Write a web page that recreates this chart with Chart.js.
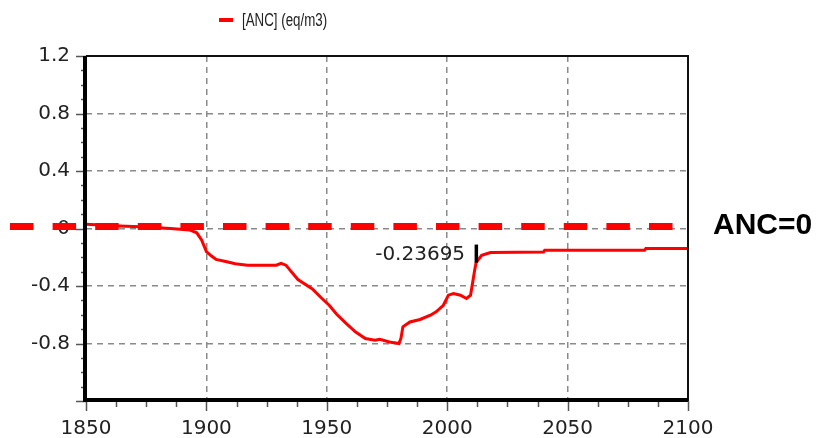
<!DOCTYPE html>
<html><head><meta charset="utf-8">
<script src="https://cdn.jsdelivr.net/npm/chart.js@4"></script>
<style>html,body{margin:0;padding:0;background:#fff}#wrap{width:817px;height:438px;position:relative}</style>
</head><body><div id="wrap"><canvas id="c"></canvas></div>
<script>
const years = [1850, 1864, 1875, 1885, 1893, 1896, 1898, 1900, 1902, 1904, 1908, 1912, 1917, 1929, 1931, 1933, 1938, 1944, 1948, 1951, 1954, 1958, 1962, 1966, 1970, 1972, 1976, 1980, 1980.8, 1981.6, 1984.5, 1988.7, 1993, 1995.4, 1998.4, 2000.5, 2002.6, 2005.5, 2008, 2009.7, 2010.5, 2011.4, 2012, 2014.3, 2018, 2040, 2040.5, 2082, 2082.5, 2100];
const ancValues = [0.03, 0.018, 0.01, 0.0, -0.01, -0.03, -0.08, -0.16, -0.19, -0.215, -0.23, -0.245, -0.255, -0.255, -0.243, -0.255, -0.355, -0.42, -0.487, -0.534, -0.595, -0.66, -0.72, -0.765, -0.777, -0.77, -0.789, -0.8, -0.763, -0.684, -0.65, -0.633, -0.603, -0.58, -0.534, -0.464, -0.452, -0.464, -0.487, -0.464, -0.383, -0.29, -0.237, -0.186, -0.167, -0.163, -0.151, -0.151, -0.139, -0.139];
const seriesLabel = '[ANC] (eq/m3)';
const xTickLabels = ['1850', '1900', '1950', '2000', '2050', '2100'];
const yTickLabels = ['1.2', '0.8', '0.4', '0', '-0.4', '-0.8'];
const refLineValue = 0;
const refLineLabel = 'ANC=0';
const annotYear = 2012;
const annotValue = -0.23695;
const annotText = '-0.23695';

const tickFont = {family: 'DejaVu Sans', size: 20};

const deco = {
  id: 'deco',
  afterDatasetsDraw(chart) {
    const {ctx, chartArea: a, scales: {x, y}} = chart;
    ctx.save();
    // ticks
    ctx.strokeStyle = '#555';
    ctx.lineWidth = 1.5;
    ctx.setLineDash([]);
    x.ticks.forEach(t => {
      const px = Math.round(x.getPixelForValue(t.value)) + 0.5;
      const major = Math.abs(t.value % 50) < 1e-6;
      ctx.beginPath(); ctx.moveTo(px, a.bottom); ctx.lineTo(px, a.bottom + (major ? 10 : 6)); ctx.stroke();
    });
    y.ticks.forEach(t => {
      const py = Math.round(y.getPixelForValue(t.value)) + 0.5;
      const major = Math.round(t.value * 10) % 4 === 0;
      ctx.beginPath(); ctx.moveTo(a.left, py); ctx.lineTo(a.left - (major ? 10 : 5), py); ctx.stroke();
    });
    // frame
    ctx.strokeStyle = '#111';
    ctx.lineWidth = 2;
    ctx.beginPath(); ctx.moveTo(a.left, a.top); ctx.lineTo(a.right, a.top); ctx.lineTo(a.right, a.bottom); ctx.stroke();
    ctx.strokeStyle = '#000';
    ctx.lineWidth = 4;
    ctx.beginPath(); ctx.moveTo(a.left - 1, a.top); ctx.lineTo(a.left - 1, a.bottom - 1); ctx.lineTo(a.right, a.bottom - 1); ctx.stroke();
    // reference line
    const py0 = y.getPixelForValue(refLineValue);
    ctx.strokeStyle = '#ff0000';
    ctx.lineWidth = 7;
    ctx.setLineDash([23.5, 19.1]);
    ctx.beginPath(); ctx.moveTo(10, py0 - 2); ctx.lineTo(a.right + 2, py0 - 2); ctx.stroke();
    ctx.setLineDash([]);
    ctx.fillStyle = '#000';
    ctx.font = 'bold 30px "Liberation Sans"';
    ctx.textAlign = 'left';
    ctx.textBaseline = 'middle';
    ctx.fillText(refLineLabel, a.right + 25, py0 - 3);
    // annotation
    const ax = x.getPixelForValue(annotYear);
    const ay = y.getPixelForValue(annotValue);
    ctx.fillStyle = '#000';
    ctx.fillRect(ax - 1.5, ay - 18, 3.5, 18);
    ctx.fillStyle = '#222';
    ctx.font = '20px "DejaVu Sans"';
    ctx.textAlign = 'right';
    ctx.fillText(annotText, ax - 11, ay - 8);
    // legend
    ctx.strokeStyle = '#ff0000';
    ctx.lineWidth = 4;
    ctx.beginPath(); ctx.moveTo(219, 20); ctx.lineTo(233, 20); ctx.stroke();
    ctx.fillStyle = '#222';
    ctx.font = '18px "Liberation Sans"';
    ctx.textAlign = 'left';
    ctx.translate(242, 21);
    ctx.scale(0.74, 1);
    ctx.fillText(seriesLabel, 0, 0);
    ctx.restore();
  }
};

new Chart(document.getElementById('c'), {
  type: 'line',
  data: {
    datasets: [{
      label: seriesLabel,
      data: years.map((yr, i) => ({x: yr, y: ancValues[i]})),
      borderColor: '#ff0000',
      borderWidth: 3,
      pointRadius: 0,
      tension: 0,
      fill: false
    }]
  },
  options: {
    responsive: true,
    maintainAspectRatio: false,
    animation: false,
    devicePixelRatio: 1,
    layout: {padding: {top: 56, right: 129, left: 0, bottom: 0}},
    plugins: {legend: {display: false}, tooltip: {enabled: false}},
    scales: {
      x: {
        type: 'linear', min: 1850, max: 2100,
        afterFit(s) { s.height = 37; },
        ticks: {
          stepSize: 12.5, autoSkip: false, maxRotation: 0, padding: 16,
          font: tickFont, color: '#222',
          callback: v => { const s = String(Math.round(v)); return (Math.abs(v - Math.round(v)) < 1e-6 && xTickLabels.includes(s)) ? s : ''; }
        },
        grid: {
          drawTicks: false, lineWidth: 1.5,
          color: c => { const v = c.tick ? c.tick.value : 0; return (Math.abs(v % 50) < 1e-6 && v > 1850 && v < 2100) ? '#8a8a8a' : 'rgba(0,0,0,0)'; }
        },
        border: {display: false, dash: [6, 5]}
      },
      y: {
        min: -1.2, max: 1.2,
        afterFit(s) { s.width = 86; },
        ticks: {
          stepSize: 0.1, autoSkip: false, padding: 16,
          font: tickFont, color: '#222',
          callback: v => { const r = Math.round(v * 10); if (r % 4 !== 0) return ''; const lbl = yTickLabels.find(l => Math.round(parseFloat(l) * 10) === r); return lbl || ''; }
        },
        grid: {
          drawTicks: false, lineWidth: 1.5,
          color: c => { const r = c.tick ? Math.round(c.tick.value * 10) : 0; return (r % 4 === 0 && r > -12 && r < 12) ? '#8a8a8a' : 'rgba(0,0,0,0)'; }
        },
        border: {display: false, dash: [6, 5]}
      }
    }
  },
  plugins: [deco]
});
</script>
</body></html>
